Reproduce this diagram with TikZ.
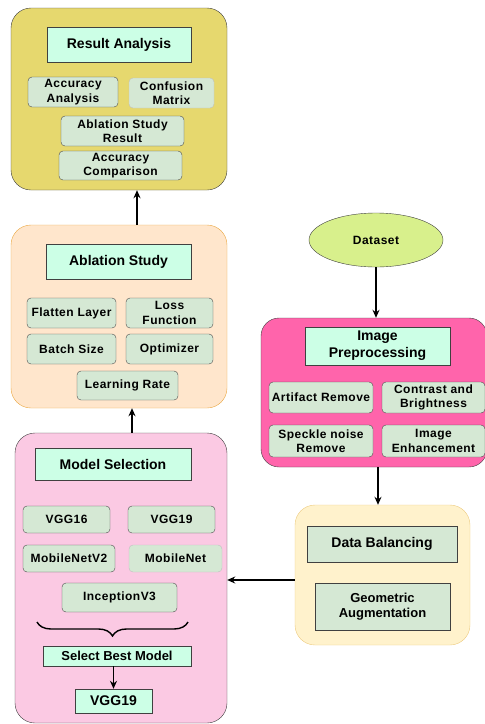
\documentclass[tikz,border=0pt]{standalone}
\usepackage{fontspec}
\setmainfont{Liberation Sans}
\usetikzlibrary{arrows.meta,decorations.pathreplacing,shapes.geometric}

\definecolor{resfill}{HTML}{E6D86E}
\definecolor{ablfill}{HTML}{FFE6CC}
\definecolor{ablline}{HTML}{EBA844}
\definecolor{modfill}{HTML}{FBC9E3}
\definecolor{prepfill}{HTML}{FF64AB}
\definecolor{balfill}{HTML}{FFF2CC}
\definecolor{balline}{HTML}{EDCB80}
\definecolor{dsfill}{HTML}{D8F08C}
\definecolor{mint}{HTML}{CCFFE6}
\definecolor{subgreen}{HTML}{D5E8D4}
\def\fbig{\fontsize{14}{16}\selectfont\bfseries}
\def\fmid{\fontsize{13}{15}\selectfont\bfseries}
\def\fsmall{\fontsize{12}{14.5}\selectfont\bfseries\addfontfeature{LetterSpace=4}}

\begin{document}
\begin{tikzpicture}[x=1pt,y=-1pt,
  wh/.style 2 args={minimum width=#1pt,minimum height=#2pt},
  outer/.style={draw=black!75,rounded corners=20pt,inner sep=0pt},
  title/.style={draw=black!75,fill=mint,inner sep=0pt,align=center,font=\fbig},
  sub/.style={draw=black!70,fill=subgreen,rounded corners=4pt,inner sep=0pt,align=center,font=\fsmall},
  light/.style={draw=black!25},
  arr/.style={-{Stealth[length=8pt,width=7pt]},line width=1.4pt}]
  \useasboundingbox (0,0) rectangle (485,724);

  % result analysis
  \node[outer,fill=resfill,wh={216}{182}] (res) at (119,99) {};
  \node[title,wh={144}{35}] (restitle) at (119,44.5) {Result Analysis};
  \node[sub,wh={90}{30}] (accan) at (73,92) {Accuracy\\Analysis};
  \node[sub,light,wh={85}{30}] (confm) at (171.5,93) {Confusion\\Matrix};
  \node[sub,wh={123}{30}] (ablres) at (122.5,131) {Ablation Study\\Result};
  \node[sub,wh={123}{29}] (acccmp) at (120.5,165.5) {Accuracy\\Comparison};

  % ablation study
  \node[outer,draw=ablline,fill=ablfill,wh={216}{183}] (abl) at (119,316.5) {};
  \node[title,wh={145}{35}] (abltitle) at (118.5,261.5) {Ablation Study};
  \node[sub,wh={89}{30}] (flat) at (71.5,313) {Flatten Layer};
  \node[sub,wh={87}{30}] (loss) at (169.5,313) {Loss\\Function};
  \node[sub,wh={89}{30}] (batch) at (71.5,349) {Batch Size};
  \node[sub,wh={87}{30}] (optim) at (169.5,349) {Optimizer};
  \node[sub,wh={101}{29}] (lrate) at (127.5,385.5) {Learning Rate};

  % model selection
  \node[outer,fill=modfill,wh={212}{290}] (model) at (121,578) {};
  \node[title,wh={156}{32}] (modtitle) at (113,464) {Model Selection};
  \node[sub,wh={87}{27}] (vgga) at (66.5,519.5) {VGG16};
  \node[sub,wh={87}{27}] (vggb) at (171.5,519.5) {VGG19};
  \node[sub,wh={92}{27}] (mnv2) at (69,558.5) {MobileNetV2};
  \node[sub,light,wh={93}{27}] (mnet) at (175.5,558.5) {MobileNet};
  \node[sub,wh={115}{29}] (incep) at (119.5,597.5) {InceptionV3};
  \coordinate (bl) at (37,622);
  \coordinate (br) at (188,622);
  \draw[line width=1.4pt,decorate,decoration={brace,mirror,amplitude=14pt}] (bl) -- (br);
  \node[title,font=\fmid,wh={148}{20}] (best) at (117,656) {Select Best Model};
  \node[title,wh={77}{24}] (final) at (113.5,701) {VGG19};

  % dataset and preprocessing
  \node[ellipse,draw=black!75,fill=dsfill,wh={134}{54},font=\fsmall] (ds) at (376,240) {Dataset};
  \node[outer,fill=prepfill,rounded corners=18pt,wh={226}{149}] (prep) at (374,392.5) {};
  \node[title,wh={145}{38},font=\fontsize{14}{17}\selectfont\bfseries] (preptitle) at (377.5,346) {Image\\Preprocessing};
  \node[sub,wh={104}{31}] (art) at (321,397.5) {Artifact Remove};
  \node[sub,wh={103}{31}] (contr) at (433.5,397.5) {Contrast and\\Brightness};
  \node[sub,wh={104}{32}] (speck) at (321,441) {Speckle noise\\Remove};
  \node[sub,wh={103}{32}] (enh) at (433.5,441) {Image\\Enhancement};

  % data balancing
  \node[outer,draw=balline,fill=balfill,wh={175}{140}] (bal) at (382.5,575) {};
  \node[title,fill=subgreen,wh={150}{36}] (baltitle) at (382,544) {Data Balancing};
  \node[title,fill=subgreen,font=\fmid,wh={135}{47}] (geo) at (382.5,606.5) {Geometric\\Augmentation};

  % connectors
  \draw[arr] (ds.south) -- (ds.south |- prep.north);
  \draw[arr] ([xshift=4pt]prep.south) -- ([xshift=4pt]prep.south |- bal.north);
  \draw[arr] ([yshift=-5pt]bal.west) -- ([yshift=-5pt]bal.west -| model.east);
  \draw[arr] ([xshift=11pt]model.north) -- ([xshift=11pt]model.north |- abl.south);
  \draw[arr] ([xshift=18pt]abl.north) -- ([xshift=18pt]abl.north |- res.south);
  \draw[arr,line width=1.8pt] (best.south -| final.north) -- (final.north);
\end{tikzpicture}
\end{document}
